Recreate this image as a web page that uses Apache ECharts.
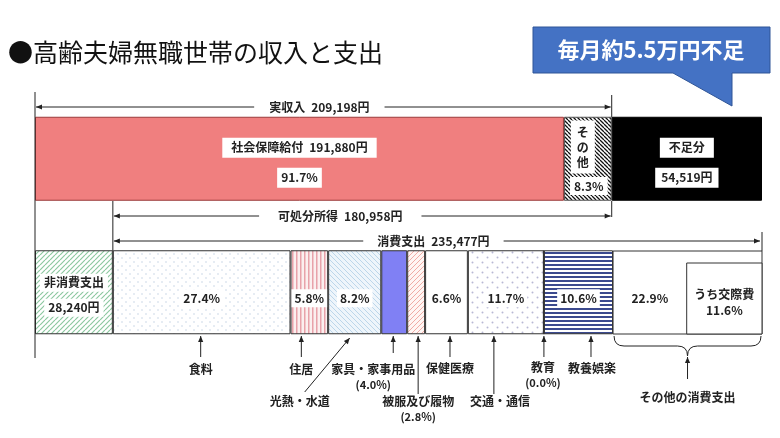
<!DOCTYPE html>
<html><head><meta charset="utf-8">
<script src="https://cdn.jsdelivr.net/npm/echarts@6/dist/echarts.min.js"></script>
<style>html,body{margin:0;padding:0;background:#fff}#c{width:780px;height:438px}</style>
</head><body><div id="c"></div>
<script>
// ---------- data ----------
const titleText = '●高齢夫婦無職世帯の収入と支出';
const calloutText = '毎月約5.5万円不足';
const rows = ['収入', '支出'];
const incomeCats = ['社会保障給付', 'その他', '不足分'];
const incomeVals = [191880, 17318, 54519];
const incomePct = ['91.7%', '8.3%', ''];
const totalIncomeName = '実収入';
const totalIncome = 209198;
const disposableName = '可処分所得';
const disposable = 180958;
const nonConsName = '非消費支出';
const nonConsVal = 28240;
const consName = '消費支出';
const consTotal = 235477;
const consCats = ['食料', '住居', '光熱・水道', '家具・家事用品', '被服及び履物', '保健医療', '交通・通信', '教育', '教養娯楽', 'その他の消費支出'];
const consVals = [64444, 13656, 19267, 9405, 6497, 15512, 27576, 15, 25077, 54028];
const consPct = ['27.4%', '5.8%', '8.2%', '4.0%', '2.8%', '6.6%', '11.7%', '0.0%', '10.6%', '22.9%'];
const kosaihiName = 'うち交際費';
const kosaihiVal = 27315;
const kosaihiPct = '11.6%';

// ---------- helpers ----------
const F = '"Noto Sans CJK JP","Noto Sans",sans-serif';
const fmt = v => v.toLocaleString('en-US');
const axisMax = incomeVals.reduce((a, b) => a + b, 0);

function pat(size, bg, fn) {
  const c = document.createElement('canvas'); c.width = size; c.height = size;
  const g = c.getContext('2d'); g.fillStyle = bg; g.fillRect(0, 0, size, size); fn(g, size);
  return { image: c, repeat: 'repeat' };
}
function diag(color, lw, dir) {
  return (g, p) => { g.strokeStyle = color; g.lineWidth = lw; g.beginPath();
    for (let k = -1; k <= 1; k++) { if (dir > 0) { g.moveTo(k * p, p); g.lineTo(k * p + p, 0); } else { g.moveTo(k * p, 0); g.lineTo(k * p + p, p); } }
    g.stroke(); };
}
function vstripe(color, w) { return (g, p) => { g.fillStyle = color; g.fillRect(0, 0, w, p); }; }
function hstripe(color, h) { return (g, p) => { g.fillStyle = color; g.fillRect(0, 0, p, h); }; }
function dots(color, r) {
  return (g, p) => { g.fillStyle = color;
    g.beginPath(); g.arc(p / 4, p / 4, r, 0, 7); g.fill();
    g.beginPath(); g.arc(3 * p / 4, 3 * p / 4, r, 0, 7); g.fill(); };
}

const topColors = ['#f07f7f', pat(4, '#fff', diag('#111', 1.3, -1)), '#000'];
const nonConsColor = pat(5, '#fff', diag('#8cc8a0', 1.2, 1));
const consColors = [
  pat(8, '#fff', dots('#c6d4e4', 0.8)),
  pat(4, '#fbefef', vstripe('#e8a2aa', 1.5)),
  pat(5, '#eef5fb', diag('#bcd6ea', 1, -1)),
  '#8080f4',
  pat(5, '#fff6f4', diag('#f0aca6', 1, 1)),
  '#fff',
  pat(10, '#fff', dots('#b8b8d4', 1)),
  '#fff',
  pat(4, '#fff', hstripe('#3c4a8e', 2)),
  '#fff'
];

const lblBase = { color: '#222', fontSize: 12, fontWeight: 'bold', fontFamily: F };
function boxStyle(pad, lh) { return Object.assign({ backgroundColor: '#fff', padding: pad, lineHeight: lh }, lblBase); }
function pctLabel(t) {
  return Object.assign({ show: true, position: 'inside', formatter: t, backgroundColor: '#fff', padding: [3, 3], offset: [0, 6] }, lblBase);
}

const series = [];
function addSeg(rowIdx, name, val, color, label, border) {
  series.push({
    type: 'bar', name, stack: 'total', barWidth: 84, silent: true, animation: false,
    data: rowIdx === 0 ? [val, '-'] : ['-', val],
    itemStyle: { color, borderColor: border ? border[0] : '#333', borderWidth: border ? border[1] : 1 },
    label: label || { show: false }
  });
}

// top row
addSeg(0, incomeCats[0], incomeVals[0], topColors[0], {
  show: true, position: 'inside', offset: [0, 4],
  formatter: '{a|' + incomeCats[0] + '\u2002' + fmt(incomeVals[0]) + '円}\n{b|' + incomePct[0] + '}',
  rich: { a: boxStyle([4, 9], 30), b: boxStyle([4, 4], 30) }
}, ['#9a3b3b', 1]);
addSeg(0, incomeCats[1], incomeVals[1], topColors[1], null, ['#555', 1]);
addSeg(0, incomeCats[2], incomeVals[2], topColors[2], {
  show: true, position: 'inside', offset: [0, 4],
  formatter: '{a|' + incomeCats[2] + '}\n{b|' + fmt(incomeVals[2]) + '円}',
  rich: { a: boxStyle([4, 9], 30), b: boxStyle([4, 6], 30) }
}, ['#000', 1]);

// bottom row
addSeg(1, nonConsName, nonConsVal, nonConsColor, {
  show: true, position: 'inside', offset: [0, 3],
  formatter: '{a|' + nonConsName + '}\n{b|' + fmt(nonConsVal) + '円}',
  rich: { a: boxStyle([3, 4], 25), b: boxStyle([3, 4], 25) }
});
const inBarPct = [true, true, true, false, false, true, true, false, true, true];
consCats.forEach((c, i) => {
  if (i === 9) {
    addSeg(1, c, consVals[i] - kosaihiVal, consColors[i], pctLabel(consPct[i]), ['#fff', 0]);
    addSeg(1, kosaihiName, kosaihiVal, '#fff', null, ['#fff', 0]);
  } else {
    addSeg(1, c, consVals[i], consColors[i], inBarPct[i] ? pctLabel(consPct[i]) : null);
  }
});

const chart = echarts.init(document.getElementById('c'), null, { renderer: 'canvas' });
chart.setOption({
  animation: false,
  backgroundColor: '#fff',
  grid: { left: 35, right: 18, top: 92, height: 267 },
  xAxis: { type: 'value', min: 0, max: axisMax, show: false },
  yAxis: { type: 'category', data: rows, inverse: true, show: false },
  series
});

// ---------- annotations ----------
const px = v => chart.convertToPixel({ xAxisIndex: 0 }, v);
const G = [];
const ink = '#222';
function line(x1, y1, x2, y2) { return { type: 'line', z: 15, shape: { x1, y1, x2, y2 }, style: { stroke: ink, lineWidth: 1 } }; }
function head(x, y, dx, dy) {
  const L = 6, W = 2.6, n = Math.hypot(dx, dy), ux = dx / n, uy = dy / n, bx = x - ux * L, by = y - uy * L;
  return { type: 'polygon', z: 15, shape: { points: [[x, y], [bx - uy * W, by + ux * W], [bx + uy * W, by - ux * W]] }, style: { fill: ink } };
}
function arrow(x1, y1, x2, y2, both) {
  G.push(line(x1, y1, x2, y2), head(x2, y2, x2 - x1, y2 - y1));
  if (both) G.push(head(x1, y1, x1 - x2, y1 - y2));
}
function txt(x, y, s, o) {
  G.push({ type: 'text', z: 16, x, y, style: Object.assign({ text: s, fontSize: 12, fontWeight: 'bold', fontFamily: F, fill: ink,
    align: 'center', verticalAlign: 'middle', textAlign: 'center', textVerticalAlign: 'middle' }, o || {}) });
}

const x0 = px(0), xInc = px(totalIncome), xNon = px(nonConsVal), xEnd = px(nonConsVal + consTotal);
// title
G.push({ type: 'text', x: 8, y: 52, z: 16, style: { text: titleText, fontSize: 25, fontFamily: F, fill: '#111', verticalAlign: 'middle', textVerticalAlign: 'middle' } });
// callout
G.push({ type: 'polygon', z: 20, shape: { points: [[533, 27], [770, 27], [770, 73], [732, 73], [732, 106], [673, 73], [533, 73]] }, style: { fill: '#4472c4', stroke: '#2f5597', lineWidth: 1 } });
G.push({ type: 'text', z: 21, x: 651, y: 50, style: { text: calloutText, fontSize: 22, fontWeight: 'bold', fontFamily: F, fill: '#fff', align: 'center', verticalAlign: 'middle', textAlign: 'center', textVerticalAlign: 'middle' } });

// frame lines
G.push(line(x0, 92, x0, 358));
G.push(line(xInc, 95, xInc, 117), line(xInc, 201, xInc, 217));
G.push(line(xNon, 201, xNon, 251));
G.push(line(xEnd, 232, xEnd, 251));

// span arrows
arrow(x0 + 1, 107, xInc - 1, 107, true);
txt((x0 + xInc) / 2 - 4, 107, totalIncomeName + '\u2002' + fmt(totalIncome) + '円', { backgroundColor: '#fff', padding: [2, 15] });
arrow(xNon + 1, 216, xInc - 1, 216, true);
txt((xNon + xInc) / 2 - 22, 216, disposableName + '\u2002' + fmt(disposable) + '円', { backgroundColor: '#fff', padding: [2, 19] });
arrow(xNon + 1, 241, xEnd - 2, 241, true);
txt((xNon + xEnd) / 2 - 4, 241, consName + '\u2002' + fmt(consTotal) + '円', { backgroundColor: '#fff', padding: [2, 14] });

// top "その他" labels
const xOthC = px(incomeVals[0] + incomeVals[1] / 2);
txt(xOthC - 5, 147, incomeCats[1].split('').join('\n'), { backgroundColor: '#fff', padding: [4, 6], lineHeight: 15 });
txt(xOthC + 1, 186, incomePct[1], { backgroundColor: '#fff', padding: [3, 4] });

// bottom segments geometry
const cum = []; let acc = nonConsVal;
consVals.forEach(v => { cum.push([acc, acc + v]); acc += v; });
const cx = i => px((cum[i][0] + cum[i][1]) / 2);
const yTip = 336;

// その他 outline & 交際費 box
const xo1 = px(cum[9][0]), xk = px(cum[9][1] - kosaihiVal);
G.push({ type: 'rect', z: 5, shape: { x: xo1, y: 251, width: xEnd - xo1, height: 83 }, style: { fill: 'none', stroke: '#333', lineWidth: 1 } });
G.push({ type: 'rect', z: 5, shape: { x: xk, y: 263, width: xEnd - xk, height: 71 }, style: { fill: '#fff', stroke: '#333', lineWidth: 1 } });
txt((xk + xEnd) / 2, 294, kosaihiName);
txt((xk + xEnd) / 2, 310, kosaihiPct);

// callout labels below
function down(i, dx, yBot, lines, ly, ldx) {
  const ax = cx(i) + dx;
  arrow(ax, yBot, ax, yTip, false);
  lines.forEach((s, k) => txt(ax + (ldx || 0), ly + k * 16, s, k > 0 ? { fontSize: 11 } : {}));
}
down(0, -1, 357, [consCats[0]], 369);
down(1, -8, 357, [consCats[1]], 369);
// 光熱・水道 diagonal
{ const ax = cx(2) - 5; arrow(ax - 45, 392, ax, 338, false); txt(ax - 50, 401, consCats[2]); }
down(3, -1, 353, [consCats[3], '(' + consPct[3] + ')'], 369, -20);
down(4, 2, 394, [consCats[4], '(' + consPct[4] + ')'], 401, 0);
down(5, 3.5, 357, [consCats[5]], 368);
down(6, -12, 394, [consCats[6]], 401, 6);
down(7, 0, 357, [consCats[7], '(' + consPct[7] + ')'], 367, -1);
down(8, 12.5, 357, [consCats[8]], 368, 1);

// brace for その他の消費支出
{ const xs = xo1 + 1, xe = xEnd - 1, xm = (xs + xe) / 2, yt = 336, yc = 346, ya = 356;
  const bz = (x1, y1, cpx1, cpy1, x2, y2) => ({ type: 'bezierCurve', z: 15, shape: { x1, y1, cpx1, cpy1, x2, y2 }, style: { stroke: ink, lineWidth: 1, fill: 'none' } });
  G.push(bz(xs, yt, xs, yc, xs + 10, yc), line(xs + 10, yc, xm - 10, yc), bz(xm - 10, yc, xm, yc, xm, ya),
         bz(xm, ya, xm, yc, xm + 10, yc), line(xm + 10, yc, xe - 10, yc), bz(xe - 10, yc, xe, yc, xe, yt));
  arrow(xm, 379, xm, ya + 1, false);
  txt(xm, 397, consCats[9]);
}

chart.setOption({ graphic: { elements: G } });
</script>
</body></html>
